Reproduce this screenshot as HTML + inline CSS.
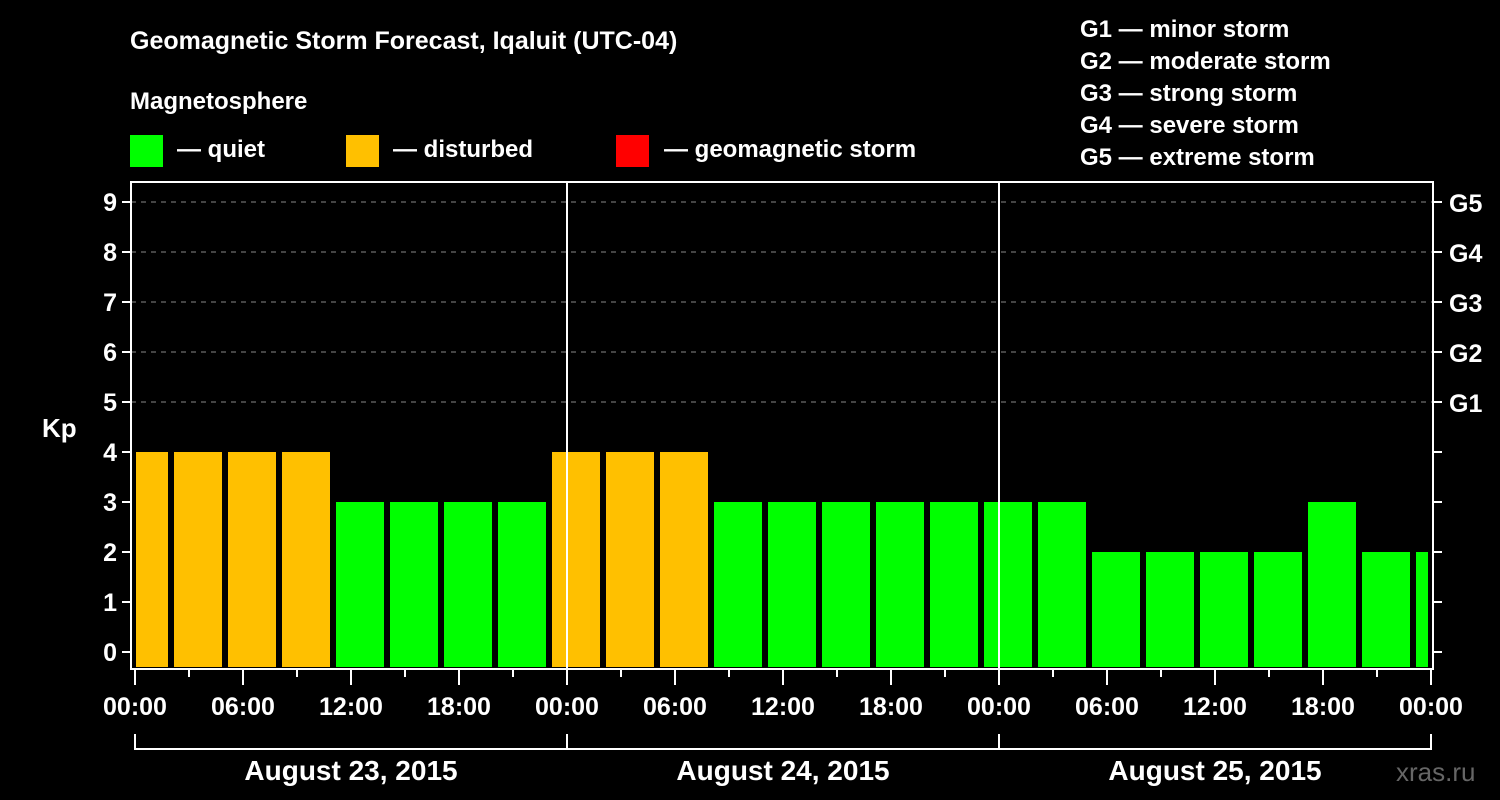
<!DOCTYPE html>
<html><head><meta charset="utf-8"><style>
html,body{margin:0;padding:0;background:#000;width:1500px;height:800px;overflow:hidden}
svg{display:block;font-family:"Liberation Sans",Arial,sans-serif;font-weight:bold}
</style></head><body>
<svg id="c" width="1500" height="800" xmlns="http://www.w3.org/2000/svg">
<text x="130" y="49" fill="#fff" font-size="25">Geomagnetic Storm Forecast, Iqaluit (UTC-04)</text>
<text x="130" y="109" fill="#fff" font-size="24">Magnetosphere</text>
<g><rect x="130" y="135" width="33" height="32" fill="#00ff00"/><text x="177" y="157" fill="#fff" font-size="24">— quiet</text></g>
<g><rect x="346" y="135" width="33" height="32" fill="#ffc000"/><text x="393" y="157" fill="#fff" font-size="24">— disturbed</text></g>
<g><rect x="616" y="135" width="33" height="32" fill="#ff0000"/><text x="664" y="157" fill="#fff" font-size="24">— geomagnetic storm</text></g>
<g fill="#fff" font-size="24">
<text x="1080" y="37">G1 — minor storm</text><text x="1080" y="69">G2 — moderate storm</text><text x="1080" y="101">G3 — strong storm</text><text x="1080" y="133">G4 — severe storm</text><text x="1080" y="165">G5 — extreme storm</text></g>
<text x="42" y="437" fill="#fff" font-size="26">Kp</text>
<text x="1396" y="781" fill="#666" font-size="26" font-weight="normal">xras.ru</text>
<g id="plot"></g>
</svg>
<script>
const kpValues=[4,4,4,4,3,3,3,3,4,4,4,3,3,3,3,3,3,3,2,2,2,2,3,2,2];
const hourLabels=["00:00","06:00","12:00","18:00"];
const dateLabels=["August 23, 2015","August 24, 2015","August 25, 2015"];
const kpTicks=[0,1,2,3,4,5,6,7,8,9];
const gLabels=["G1","G2","G3","G4","G5"];
const NS="http://www.w3.org/2000/svg";
const L=131,R=1433,T=182,B=669;
const x0=135,dayW=432;
const xh=h=>x0+h*dayW/24;
const yk=k=>652-k*50;
const g=document.getElementById('plot');
function mk(t,a,txt){const e=document.createElementNS(NS,t);for(const k in a)e.setAttribute(k,a[k]);if(txt!==undefined)e.textContent=txt;g.appendChild(e);return e;}
// grid
[5,6,7,8,9].forEach(k=>{const e=mk('line',{x1:L,x2:R,y1:yk(k),y2:yk(k),stroke:'#888','stroke-width':1,'stroke-dasharray':'5,5'});

});
// bars
kpValues.forEach((v,i)=>{let a=xh(i*3)-15,b=a+48;a=Math.max(a,136);b=Math.min(b,1428);
const e=mk('rect',{x:a,y:yk(v),width:b-a,height:667-yk(v),fill:v>=5?'#ff0000':(v>=4?'#ffc000':'#00ff00')});

});
// day separators
for(let d=1;d<3;d++){const e=mk('line',{x1:xh(d*24),x2:xh(d*24),y1:T,y2:B,stroke:'#fff','stroke-width':2});

}
// frame
const fr=mk('rect',{x:L,y:T,width:R-L,height:B-T,fill:'none',stroke:'#fff','stroke-width':2});


// y ticks
kpTicks.forEach(k=>{mk('line',{x1:L-9,x2:L,y1:yk(k),y2:yk(k),stroke:'#fff','stroke-width':2});
mk('line',{x1:R,x2:R+9,y1:yk(k),y2:yk(k),stroke:'#fff','stroke-width':2});
const t=mk('text',{x:L-14,y:yk(k)+9,fill:'#fff','font-size':25,'text-anchor':'end'},k);

});
gLabels.forEach((s,i)=>{const t=mk('text',{x:1449,y:yk(5+i)+10,fill:'#fff','font-size':25},s);

});
// x ticks
for(let h=0;h<=72;h+=3){const maj=h%6===0;mk('line',{x1:xh(h),x2:xh(h),y1:B,y2:B+(maj?16:8),stroke:'#fff','stroke-width':2});
if(maj){const t=mk('text',{x:xh(h),y:715,fill:'#fff','font-size':25,'text-anchor':'middle'},hourLabels[(h/6)%4]);

}}
// date bracket
mk('polyline',{points:`${xh(0)},734 ${xh(0)},749 ${xh(72)},749 ${xh(72)},734`,fill:'none',stroke:'#fff','stroke-width':2});
for(let d=1;d<3;d++)mk('line',{x1:xh(d*24),x2:xh(d*24),y1:734,y2:749,stroke:'#fff','stroke-width':2});
dateLabels.forEach((s,d)=>{const t=mk('text',{x:xh(d*24+12),y:780,fill:'#fff','font-size':28,'text-anchor':'middle'},s);

});
</script>
</body></html>
